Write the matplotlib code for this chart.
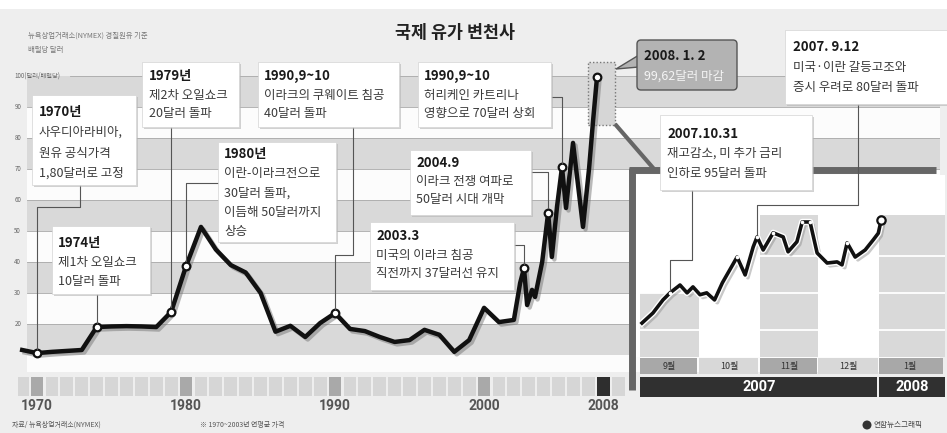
import numpy as np
import matplotlib
matplotlib.use("Agg")
import matplotlib.pyplot as plt
import matplotlib.patheffects as pe
from matplotlib import font_manager
from matplotlib.patches import Rectangle, FancyBboxPatch, Polygon, Circle

plt.rcParams['font.family'] = ['Noto Sans CJK KR', 'DejaVu Sans']

W, H = 947, 433

installed = {f.name for f in font_manager.fontManager.ttflist}
NUM_FONT = 'Liberation Sans Narrow' if 'Liberation Sans Narrow' in installed else 'Roboto'

# long-term line: annual averages 1969-2002 (dollars per barrel)
years = list(range(1969, 2003))
price = [11.6, 10.6, 11.0, 11.3, 11.6, 19.0, 19.2, 19.3, 19.2, 19.0,
         23.9, 38.7, 51.3, 44.0, 39.0, 36.6, 30.0, 17.5, 19.4, 15.8,
         20.3, 23.5, 18.4, 17.7, 15.8, 14.2, 14.8, 18.1, 16.5, 11.0,
         14.8, 25.2, 20.6, 21.3]

# 2002-2008 detail
recent_t = [2002.42, 2002.68, 2002.89, 2003.22, 2003.42, 2003.9, 2004.3,
            2004.55, 2004.9, 2005.23, 2005.5, 2005.97, 2006.64, 2007.05,
            2007.32, 2007.58]
recent_p = [33.2, 38.0, 26.1, 31.0, 28.7, 40.0, 55.8,
            41.6, 58.0, 70.6, 57.4, 78.4, 51.3, 70.3,
            85.8, 99.62]

# dates with an open circle
event_t = [1970, 1974, 1979, 1980, 1990, 2002.68, 2004.3, 2005.23, 2007.58]

# close-up Sep 2007 - Jan 2008, days from 2007-09-01
inset_day = [1.0, 6.6, 11.7, 15.3, 20.4, 24.0, 27.0, 30.6, 34.0, 38.0,
             42.0, 49.5, 53.6, 57.7, 59.7, 62.8, 67.9, 73.0, 75.5, 80.0,
             82.7, 86.7, 90.3, 95.4, 100.5, 103.0, 105.6, 109.7, 114.8, 118.9,
             121.5, 123.0]
inset_p = [71.9, 74.6, 78.1, 80.0, 82.1, 80.0, 81.6, 79.5, 80.0, 78.1,
           82.7, 89.6, 84.8, 92.3, 95.0, 91.5, 96.1, 95.0, 91.0, 93.7,
           99.0, 99.0, 90.7, 88.0, 88.3, 87.5, 93.4, 89.6, 91.5, 94.2,
           96.0, 99.62]
dot_idx = [3, 11, 14, 16, 20, 21, 26]

months = ['9월', '10월', '11월', '12월', '1월']
month_len = [30, 31, 30, 31, 31]

gray_bands = [(10, 20), (30, 40), (50, 60), (70, 80), (90, 100)]
yticks = [20, 30, 40, 50, 60, 70, 80, 90, 100]
strip_years = list(range(1969, 2010))
label_years = [1970, 1980, 1990, 2000, 2008]

t_all = np.array(years + recent_t, dtype=float)
p_all = np.array(price + recent_p)
ev_p = np.interp(event_t, t_all, p_all)

fig = plt.figure(figsize=(W / 100, H / 100), dpi=100, facecolor='#eeeeee')


def frame(x0, y0, x1, y1):
    return [x0 / W, 1 - y1 / H, (x1 - x0) / W, (y1 - y0) / H]


# ---- main chart
ax = fig.add_axes(frame(18, 62, 940, 372), zorder=1)
ax.set_xlim(1968.72, 2030.6)
ax.set_ylim(4.5, 104.5)
ax.axis('off')
bx0 = 9 / 922
ax.axhspan(4.5, 100, xmin=bx0, color='#fcfcfc', lw=0, zorder=0)
for lo, hi in gray_bands:
    ax.axhspan(lo, hi, xmin=bx0, color='#d9d9d9', lw=0, zorder=0)
for v in yticks:
    ax.axhline(v, xmin=52 / 922 if v == 100 else bx0, color='#a8a8a8', lw=0.6, zorder=1)
    ax.text(-0.004, v, '100(달러/배럴당)' if v == 100 else str(v), transform=ax.get_yaxis_transform(),
            fontsize=4.5, color='#666666', ha='left', va='center')

ax.add_patch(Rectangle((2006.98, 84.2), 1.81, 20.3, fc='#d6d6d6', ec='#777777',
                       ls=(0, (1, 1.5)), lw=1, zorder=2, clip_on=False))

line_fx = [pe.SimpleLineShadow(offset=(1.8, -1.8), shadow_color='#777777', alpha=0.5), pe.Normal()]
ax.plot(t_all, p_all, color='#111111', lw=3.2, solid_joinstyle='round', zorder=4,
        path_effects=line_fx, clip_on=False)
ax.plot(event_t, ev_p, 'o', ms=5.5, mfc='white', mec='#111111', mew=1.6, zorder=5, clip_on=False)

# year strip under the main chart
sx = fig.add_axes(frame(18, 377, 940, 396), zorder=1)
sx.set_xlim(ax.get_xlim())
sx.set_ylim(0, 1)
sx.axis('off')
cols = ['#2e2e2e' if y == 2008 else '#a9a9a9' if y % 10 == 0 else '#d6d6d6' for y in strip_years]
sx.bar(strip_years, 1, width=0.86, color=cols)
for y in label_years:
    sx.text(y, -0.55, str(y), ha='center', va='center', fontsize=10, fontweight='bold',
            color='#555555', family=NUM_FONT)

# ---- close-up
ix = fig.add_axes(frame(636, 175, 945, 357), zorder=3)
ix.set_xlim(-2.04, 155.5)
ix.set_ylim(62.8, 111.6)
ix.set_facecolor('white')
for sp in ix.spines.values():
    sp.set_visible(False)
ix.set_xticks([])
ix.set_yticks([])
starts = np.cumsum([0] + month_len[:-1])
widths = month_len[:-1] + [ix.get_xlim()[1] - starts[-1]]
col_top = [80, 0, 101, 0, 101]
ix.bar(starts, np.array(col_top) - 62.8 * (np.array(col_top) > 0), width=widths, bottom=62.8,
       align='edge', color='#d9d9d9', lw=0)
for v in [70, 80, 90]:
    ix.axhline(v, color='white', lw=1.3, zorder=1)

ix_fx = [pe.SimpleLineShadow(offset=(2, -2), shadow_color='#888888', alpha=0.45),
         pe.Stroke(linewidth=4.6, foreground='white'), pe.Normal()]
ix.plot(inset_day, inset_p, color='#111111', lw=2.6, solid_joinstyle='round', zorder=4, path_effects=ix_fx)
ix.plot([inset_day[i] for i in dot_idx], [inset_p[i] for i in dot_idx], 'o', ms=2.6,
        mfc='white', mec='none', zorder=5)
ix.plot(inset_day[-1], inset_p[-1], 'o', ms=6, mfc='white', mec='#111111', mew=1.6, zorder=6, clip_on=False)

mx = fig.add_axes(frame(636, 358, 945, 374), zorder=3)
mx.set_xlim(ix.get_xlim())
mx.set_ylim(0, 1)
mx.axis('off')
mx.bar(starts, 1, width=np.array(widths) - 0.8, align='edge',
       color=['#a8a8a8', '#d8d8d8', '#a8a8a8', '#d8d8d8', '#a8a8a8'])
for s, w, m in zip(starts, widths, months):
    mx.text(s + min(w, 31) / 2, 0.5, m, fontsize=6.5, color='#333333', ha='center', va='center')

yx = fig.add_axes(frame(636, 377, 945, 397), zorder=3)
yx.set_xlim(ix.get_xlim())
yx.set_ylim(0, 1)
yx.axis('off')
yx.bar([starts[0], starts[-1]], 1, width=[starts[-1] - 1, widths[-1]], align='edge', color='#303030')
yx.text(starts[-1] / 2, 0.5, '2007', color='white', fontsize=10.5, fontweight='bold',
        ha='center', va='center', family=NUM_FONT)
yx.text(starts[-1] + widths[-1] / 2, 0.5, '2008', color='white', fontsize=10.5, fontweight='bold',
        ha='center', va='center', family=NUM_FONT)

# ---- overlay in pixel units: notes, leaders, header, footer
ov = fig.add_axes([0, 0, 1, 1], zorder=10)
ov.set_xlim(0, W)
ov.set_ylim(H, 0)
ov.axis('off')


def px(axes, x, y):
    return ov.transData.inverted().transform(axes.transData.transform((x, y)))


def leader(axes, x, y, start, turn=None, r=4.5):
    mx_, my_ = px(axes, x, y)
    sx_, sy_ = start
    if sx_ is None:
        pts = [(mx_, sy_)]
    elif turn is None:
        pts = [(sx_, sy_), (mx_, sy_)]
    else:
        pts = [(sx_, sy_), (sx_, turn), (mx_, turn)]
    pts.append((mx_, my_ - r))
    ov.plot([p[0] for p in pts], [p[1] for p in pts], color='#555555', lw=0.8, zorder=3)


def note(x0, y0, x1, y1, tx, ty, dy, lines):
    ov.add_patch(Rectangle((x0 + 2, y0 + 2), x1 - x0, y1 - y0, fc='#b5b5b5', ec='none', alpha=0.6, zorder=4))
    ov.add_patch(Rectangle((x0, y0), x1 - x0, y1 - y0, fc='white', ec='#d4d4d4', lw=0.5, zorder=5))
    for i, s in enumerate(lines):
        ov.text(tx, ty + i * dy, s, fontsize=9.5 if i == 0 else 9,
                fontweight='bold' if i == 0 else 'normal',
                color='#1a1a1a' if i == 0 else '#3a3a3a', ha='left', va='center', zorder=6)


ov.add_patch(Rectangle((0, 0), W, 9, fc='white', ec='none', zorder=0))
ov.text(455, 33, '국제 유가 변천사', fontsize=12.5, fontweight='bold', color='#222222', ha='center', va='center')
ov.text(28, 36, '뉴욕상업거래소(NYMEX) 경질원유 기준', fontsize=5.3, color='#777777', va='center')
ov.text(28, 50, '배럴당 달러', fontsize=5.3, color='#777777', va='center')

# close-up frame and link to the dotted box
ov.plot([615, 654], [124, 169], color='#666666', lw=3, zorder=2, solid_capstyle='butt')
ov.plot([629, 936], [170, 170], color='#666666', lw=5, zorder=2, solid_capstyle='butt')
ov.plot([632, 632], [168, 390], color='#666666', lw=5, zorder=2, solid_capstyle='butt')

note(32, 95, 136, 185, 39, 112, 20.5, ['1970년', '사우디아라비아,', '원유 공식가격', '1,80달러로 고정'])
note(52, 226, 150, 294, 58, 243, 19.5, ['1974년', '제1차 오일쇼크', '10달러 돌파'])
note(142, 62, 239, 127, 149, 76, 19, ['1979년', '제2차 오일쇼크', '20달러 돌파'])
note(218, 142, 336, 242, 224, 154, 19.5, ['1980년', '이란-이라크전으로', '30달러 돌파,', '이듬해 50달러까지', '상승'])
note(258, 62, 399, 127, 264, 76, 19, ['1990,9~10', '이라크의 쿠웨이트 침공', '40달러 돌파'])
note(418, 62, 551, 127, 424, 76, 19, ['1990,9~10', '허리케인 카트리나', '영향으로 70달러 상회'])
note(410, 150, 531, 215, 416, 163, 18.5, ['2004.9', '이라크 전쟁 여파로', '50달러 시대 개막'])
note(370, 222, 514, 290, 376, 236, 19, ['2003.3', '미국의 이라크 침공', '직전까지 37달러선 유지'])
note(785, 30, 947, 104, 793, 47, 20.5, ['2007. 9.12', '미국·이란 갈등고조와', '증시 우려로 80달러 돌파'])
note(660, 115, 812, 190, 667, 134, 19.5, ['2007.10.31', '재고감소, 미 추가 금리', '인하로 95달러 돌파'])

leader(ax, event_t[0], ev_p[0], (80, 185), 207)
leader(ax, event_t[1], ev_p[1], (None, 294))
leader(ax, event_t[2], ev_p[2], (None, 127))
leader(ax, event_t[3], ev_p[3], (218, 183))
leader(ax, event_t[4], ev_p[4], (353, 127), 255)
leader(ax, event_t[5], ev_p[5], (514, 245))
leader(ax, event_t[6], ev_p[6], (531, 172))
leader(ax, event_t[7], ev_p[7], (551, 97))
leader(ix, inset_day[14], inset_p[14], (858, 104), 205, r=2)
leader(ix, inset_day[3], inset_p[3], (692, 190), 260, r=2)

# final close callout
ov.add_patch(Polygon([(616, 69), (639, 55), (639, 67)], closed=True, fc='#b3b3b3', ec='#555555', lw=1, zorder=4))
ov.add_patch(FancyBboxPatch((637, 40), 100, 50, boxstyle='round,pad=0,rounding_size=4',
                            fc='#b3b3b3', ec='#555555', lw=1, zorder=5))
ov.text(644, 56, '2008. 1. 2', fontsize=9.5, fontweight='bold', color='#1a1a1a', va='center', zorder=6)
ov.text(644, 76, '99,62달러 마감', fontsize=9, color='#f4f4f4', va='center', zorder=6)

# footer
ov.text(12, 425, '자료/ 뉴욕상업거래소(NYMEX)', fontsize=5, color='#555555', va='center')
ov.text(200, 425, '※ 1970~2003년 연평균 가격', fontsize=5, color='#555555', va='center')
ov.add_patch(Circle((867, 425), 4.5, fc='#333333', ec='none'))
ov.text(874, 425, '연합뉴스그래픽', fontsize=5.5, color='#444444', va='center')

fig.savefig('out.png', dpi=100, facecolor=fig.get_facecolor())
